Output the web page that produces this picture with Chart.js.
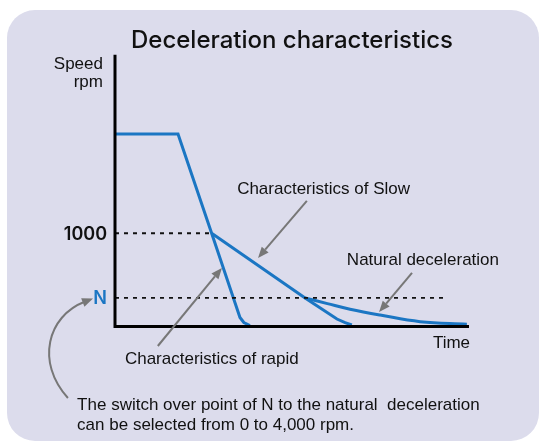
<!DOCTYPE html>
<html lang="en">
<head>
<meta charset="UTF-8">
<title>Deceleration characteristics</title>
<script src="https://cdn.jsdelivr.net/npm/chart.js"></script>
<style>
    body { margin: 0; background: #fff; }
    #wrap { position: relative; width: 540px; height: 443px; }
    .panel {
        position: absolute; left: 7px; top: 10px;
        width: 532px; height: 431px;
        background: #dcdcec; border-radius: 28px;
    }
    canvas { position: absolute; left: 0; top: 0; }
</style>
</head>
<body>
<div id="wrap">
    <div class="panel"></div>
    <canvas id="chart" width="540" height="443"></canvas>
</div>
<script>
    // time in arbitrary units (axis 0..10), speed in rpm
    const timeRapid = [0, 1.78, 2.73, 3.53, 3.64, 3.81];
    const speedRapid = [2065, 2065, 1000, 97, 43, 11];
    const timeSlow = [2.73, 5.37, 6.27, 6.50, 6.69];
    const speedSlow = [1000, 306, 80, 41, 16];
    const timeNatural = [5.37, 6.0, 6.64, 7.49, 8.62, 9.94];
    const speedNatural = [306, 245, 185, 123, 52, 24];

    const tickValues = [1000, 306];
    const tickLabels = ['1000', 'N'];
    const tickColors = ['#111', '#1b76c3'];
    const dashEnds = [2.73, 9.27];   // where each dotted guide line stops

    // annotations, in data units
    const labels = [
        { text: 'Speed', x: -0.34, y: 2763, align: 'right' },
        { text: 'rpm', x: -0.34, y: 2569, align: 'right' },
        { text: 'Characteristics of Slow', x: 3.45, y: 1422, align: 'left' },
        { text: 'Natural deceleration', x: 6.55, y: 660, align: 'left' },
        { text: 'Characteristics of rapid', x: 0.28, y: -402, align: 'left' },
        { text: 'Time', x: 10.03, y: -231, align: 'right' },
        { text: 'The switch over point of N to the natural  deceleration', x: -1.07, y: -896, align: 'left' },
        { text: 'can be selected from 0 to 4,000 rpm.', x: -1.07, y: -1110, align: 'left' }
    ];
    const arrows = [
        [5.42, 1347, 4.04, 735],
        [1.21, -209, 3.02, 628],
        [8.39, 574, 7.46, 156]
    ];
    const curvedArrow = [-1.33, -767, -2.25, -381, -1.9, 113, -0.62, 300];

    const BLUE = '#1b76c3';
    const pts = (xs, ys) => xs.map((x, i) => ({ x: x, y: ys[i] }));

    const guides = tickValues.map((v, i) => ({
        data: [{ x: 0, y: v }, { x: dashEnds[i], y: v }],
        borderColor: '#111',
        borderWidth: 1.8,
        borderDash: [4, 5],
        pointRadius: 0,
        clip: false
    }));

    function drawArrow(ctx, x1, y1, x2, y2) {
        const a = Math.atan2(y2 - y1, x2 - x1);
        const len = 11, hw = 4.5;
        const bx = x2 - len * Math.cos(a), by = y2 - len * Math.sin(a);
        ctx.beginPath();
        ctx.moveTo(x1, y1);
        ctx.lineTo(bx, by);
        ctx.stroke();
        head(ctx, x2, y2, a, len, hw);
    }

    function head(ctx, x, y, a, len, hw) {
        const bx = x - len * Math.cos(a), by = y - len * Math.sin(a);
        ctx.beginPath();
        ctx.moveTo(x, y);
        ctx.lineTo(bx + hw * Math.sin(a), by - hw * Math.cos(a));
        ctx.lineTo(bx - hw * Math.sin(a), by + hw * Math.cos(a));
        ctx.closePath();
        ctx.fill();
    }

    const extras = {
        id: 'extras',
        afterDatasetsDraw(chart) {
            const ctx = chart.ctx;
            const xs = chart.scales.x, ys = chart.scales.y;
            const px = v => xs.getPixelForValue(v);
            const py = v => ys.getPixelForValue(v);
            const area = chart.chartArea;
            ctx.save();

            // axes
            ctx.strokeStyle = '#000';
            ctx.lineWidth = 3;
            ctx.beginPath();
            ctx.moveTo(area.left, area.top);
            ctx.lineTo(area.left, area.bottom);
            ctx.lineTo(area.right, area.bottom);
            ctx.stroke();

            // tick labels
            ctx.font = '600 18px Inter, sans-serif';
            ctx.textAlign = 'right';
            ctx.textBaseline = 'middle';
            tickValues.forEach((v, i) => {
                ctx.fillStyle = tickColors[i];
                ctx.fillText(tickLabels[i], area.left - 8, py(v) + 1);
            });

            // text labels
            ctx.font = '17px "Liberation Sans", Arial, sans-serif';
            ctx.fillStyle = '#111';
            ctx.textBaseline = 'alphabetic';
            labels.forEach(l => {
                ctx.textAlign = l.align;
                ctx.fillText(l.text, px(l.x), py(l.y));
            });

            // pointer arrows
            ctx.strokeStyle = '#777';
            ctx.fillStyle = '#777';
            ctx.lineWidth = 2;
            arrows.forEach(a => drawArrow(ctx, px(a[0]), py(a[1]), px(a[2]), py(a[3])));

            const c = curvedArrow;
            const ex = px(c[6]), ey = py(c[7]);
            const ang = Math.atan2(ey - py(c[5]), ex - px(c[4]));
            ctx.beginPath();
            ctx.moveTo(px(c[0]), py(c[1]));
            ctx.bezierCurveTo(px(c[2]), py(c[3]), px(c[4]), py(c[5]), ex - 9 * Math.cos(ang), ey - 9 * Math.sin(ang));
            ctx.stroke();
            head(ctx, ex, ey, ang, 11, 4.5);

            ctx.restore();
        }
    };

    new Chart(document.getElementById('chart'), {
        type: 'line',
        data: {
            datasets: [
                ...guides,
                { data: pts(timeRapid, speedRapid), borderColor: BLUE, borderWidth: 3, pointRadius: 0, tension: 0, clip: false },
                { data: pts(timeSlow, speedSlow), borderColor: BLUE, borderWidth: 3, pointRadius: 0, tension: 0, clip: false },
                { data: pts(timeNatural, speedNatural), borderColor: BLUE, borderWidth: 3, pointRadius: 0, tension: 0.4, clip: false }
            ]
        },
        options: {
            responsive: false,
            animation: false,
            layout: { padding: { left: 115, right: 71, top: 20, bottom: 116.5 } },
            scales: {
                x: { type: 'linear', min: 0, max: 10, display: false },
                y: { min: 0, max: 2913, display: false }
            },
            plugins: {
                legend: { display: false },
                tooltip: { enabled: false },
                title: {
                    display: true,
                    text: 'Deceleration characteristics',
                    color: '#111',
                    font: { family: 'Inter', size: 24, weight: '500' },
                    padding: { top: 6, bottom: 0 }
                }
            }
        },
        plugins: [extras]
    });
</script>
</body>
</html>
